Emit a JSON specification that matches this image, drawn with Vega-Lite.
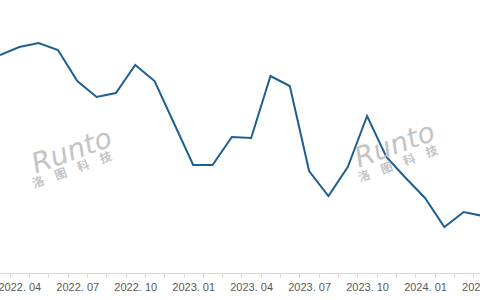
{
  "$schema": "https://vega.github.io/schema/vega-lite/v6.json",
  "width": 480,
  "height": 273,
  "autosize": {"type": "none"},
  "padding": {"left": 0, "top": 0, "right": 0, "bottom": 27},
  "background": "white",
  "config": {
    "view": {"stroke": null},
    "axisX": {
      "title": null,
      "grid": false,
      "domainColor": "#d9d9d9",
      "tickColor": "#d9d9d9",
      "tickSize": 4,
      "labelAngle": 0,
      "labelFont": "Liberation Sans",
      "labelFontSize": 11,
      "labelColor": "#595959",
      "labelPadding": 4,
      "labelOverlap": false,
      "labelBound": false,
      "labelFlush": false
    }
  },
  "layer": [
    {
      "data": {"values": [
        {"t": 0, "month": "2022.03", "value": 218},
        {"t": 1, "month": "2022.04", "value": 226},
        {"t": 2, "month": "2022.05", "value": 230},
        {"t": 3, "month": "2022.06", "value": 223},
        {"t": 4, "month": "2022.07", "value": 192},
        {"t": 5, "month": "2022.08", "value": 176},
        {"t": 6, "month": "2022.09", "value": 180},
        {"t": 7, "month": "2022.10", "value": 208},
        {"t": 8, "month": "2022.11", "value": 192},
        {"t": 9, "month": "2022.12", "value": 150},
        {"t": 10, "month": "2023.01", "value": 108},
        {"t": 11, "month": "2023.02", "value": 108},
        {"t": 12, "month": "2023.03", "value": 136},
        {"t": 13, "month": "2023.04", "value": 135},
        {"t": 14, "month": "2023.05", "value": 197},
        {"t": 15, "month": "2023.06", "value": 187},
        {"t": 16, "month": "2023.07", "value": 102},
        {"t": 17, "month": "2023.08", "value": 77},
        {"t": 18, "month": "2023.09", "value": 106},
        {"t": 19, "month": "2023.10", "value": 157},
        {"t": 20, "month": "2023.11", "value": 116},
        {"t": 21, "month": "2023.12", "value": 95},
        {"t": 22, "month": "2024.01", "value": 75},
        {"t": 23, "month": "2024.02", "value": 46},
        {"t": 24, "month": "2024.03", "value": 61},
        {"t": 25, "month": "2024.04", "value": 57}
      ]},
      "mark": {"type": "line", "color": "#1f5f8f", "strokeWidth": 2, "clip": true},
      "encoding": {
        "x": {
          "field": "t", "type": "quantitative",
          "scale": {"domain": [0, 24.845], "nice": false, "zero": false},
          "axis": {
            "values": [-0.5, 0.5, 1.5, 2.5, 3.5, 4.5, 5.5, 6.5, 7.5, 8.5, 9.5, 10.5, 11.5, 12.5, 13.5, 14.5, 15.5, 16.5, 17.5, 18.5, 19.5, 20.5, 21.5, 22.5, 23.5, 24.5, 25.5],
            "labelOffset": 9.66,
            "labelExpr": "(datum.value + 0.5) % 3 != 1 ? '' : (2022 + floor((datum.value + 2.5) / 12)) + '. ' + (((datum.value + 2.5) % 12) + 1 < 10 ? '0' : '') + (((datum.value + 2.5) % 12) + 1)"
          }
        },
        "y": {
          "field": "value", "type": "quantitative",
          "scale": {"domain": [0, 273], "nice": false, "zero": true},
          "axis": null
        }
      }
    },
    {
      "data": {"values": [{}]},
      "mark": {"type": "text", "text": "Runto", "font": "DejaVu Sans", "fontStyle": "italic", "fontWeight": 200, "fontSize": 28, "color": "#c4c4c4", "angle": 340},
      "encoding": {
        "x": {"datum": 3.73, "type": "quantitative", "axis": {
            "values": [-0.5, 0.5, 1.5, 2.5, 3.5, 4.5, 5.5, 6.5, 7.5, 8.5, 9.5, 10.5, 11.5, 12.5, 13.5, 14.5, 15.5, 16.5, 17.5, 18.5, 19.5, 20.5, 21.5, 22.5, 23.5, 24.5, 25.5],
            "labelOffset": 9.66,
            "labelExpr": "(datum.value + 0.5) % 3 != 1 ? '' : (2022 + floor((datum.value + 2.5) / 12)) + '. ' + (((datum.value + 2.5) % 12) + 1 < 10 ? '0' : '') + (((datum.value + 2.5) % 12) + 1)"
          }},
        "y": {"datum": 121, "type": "quantitative", "axis": null}
      }
    },
    {
      "data": {"values": [{}]},
      "mark": {"type": "text", "text": "洛　图　科　技", "font": "Noto Sans CJK SC", "fontWeight": "bold", "fontSize": 12, "color": "#c4c4c4", "angle": 340},
      "encoding": {
        "x": {"datum": 3.73, "type": "quantitative", "axis": {
            "values": [-0.5, 0.5, 1.5, 2.5, 3.5, 4.5, 5.5, 6.5, 7.5, 8.5, 9.5, 10.5, 11.5, 12.5, 13.5, 14.5, 15.5, 16.5, 17.5, 18.5, 19.5, 20.5, 21.5, 22.5, 23.5, 24.5, 25.5],
            "labelOffset": 9.66,
            "labelExpr": "(datum.value + 0.5) % 3 != 1 ? '' : (2022 + floor((datum.value + 2.5) / 12)) + '. ' + (((datum.value + 2.5) % 12) + 1 < 10 ? '0' : '') + (((datum.value + 2.5) % 12) + 1)"
          }},
        "y": {"datum": 103, "type": "quantitative", "axis": null}
      }
    },
    {
      "data": {"values": [{}]},
      "mark": {"type": "text", "text": "Runto", "font": "DejaVu Sans", "fontStyle": "italic", "fontWeight": 200, "fontSize": 28, "color": "#c4c4c4", "angle": 340},
      "encoding": {
        "x": {"datum": 20.45, "type": "quantitative", "axis": {
            "values": [-0.5, 0.5, 1.5, 2.5, 3.5, 4.5, 5.5, 6.5, 7.5, 8.5, 9.5, 10.5, 11.5, 12.5, 13.5, 14.5, 15.5, 16.5, 17.5, 18.5, 19.5, 20.5, 21.5, 22.5, 23.5, 24.5, 25.5],
            "labelOffset": 9.66,
            "labelExpr": "(datum.value + 0.5) % 3 != 1 ? '' : (2022 + floor((datum.value + 2.5) / 12)) + '. ' + (((datum.value + 2.5) % 12) + 1 < 10 ? '0' : '') + (((datum.value + 2.5) % 12) + 1)"
          }},
        "y": {"datum": 127, "type": "quantitative", "axis": null}
      }
    },
    {
      "data": {"values": [{}]},
      "mark": {"type": "text", "text": "洛　图　科　技", "font": "Noto Sans CJK SC", "fontWeight": "bold", "fontSize": 12, "color": "#c4c4c4", "angle": 340},
      "encoding": {
        "x": {"datum": 20.6, "type": "quantitative", "axis": {
            "values": [-0.5, 0.5, 1.5, 2.5, 3.5, 4.5, 5.5, 6.5, 7.5, 8.5, 9.5, 10.5, 11.5, 12.5, 13.5, 14.5, 15.5, 16.5, 17.5, 18.5, 19.5, 20.5, 21.5, 22.5, 23.5, 24.5, 25.5],
            "labelOffset": 9.66,
            "labelExpr": "(datum.value + 0.5) % 3 != 1 ? '' : (2022 + floor((datum.value + 2.5) / 12)) + '. ' + (((datum.value + 2.5) % 12) + 1 < 10 ? '0' : '') + (((datum.value + 2.5) % 12) + 1)"
          }},
        "y": {"datum": 109, "type": "quantitative", "axis": null}
      }
    }
  ]
}
